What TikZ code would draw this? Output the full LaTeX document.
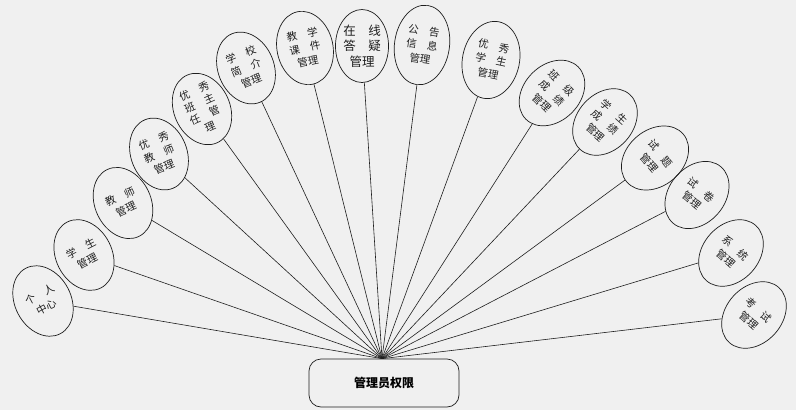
\documentclass[tikz,border=0pt]{standalone}
\usepackage{fontspec}
\newfontfamily\cjk{Noto Sans CJK SC}
\usetikzlibrary{shapes.geometric}
\definecolor{bg}{RGB}{240,240,240}
\definecolor{ink}{RGB}{30,30,30}
\begin{document}
\begin{tikzpicture}[x=1pt,y=-1pt,
  item/.style={ellipse, draw=ink, line width=0.7pt, minimum width=56pt, minimum height=74pt,
    inner sep=0pt, align=center, text=ink, font=\cjk\fontsize{10.5}{14}\selectfont},
  link/.style={draw=ink, line width=0.6pt},
  rootbox/.style={draw=ink, line width=0.7pt, rounded corners=12pt, minimum width=150pt,
    minimum height=48pt, inner sep=0pt, font=\cjk\bfseries\fontsize{12}{14}\selectfont}]
\fill[bg] (0,0) rectangle (796,410);
\useasboundingbox (0,0) rectangle (796,410);

\node[rootbox] (root) at (384,383) {管理员权限};

\node[item, rotate=28] (e1) at (43,301) {个\quad 人\\中心};
\node[item, rotate=27] (e2) at (84,255) {学\quad 生\\管理};
\node[item, rotate=25] (e3) at (123,203) {教\quad 师\\管理};
\node[item, rotate=22] (e4) at (159,154) {优\quad 秀\\教\quad 师\\管理};
\node[item, rotate=24, font=\cjk\fontsize{10.5}{13}\selectfont] (e5) at (202,109) {优\quad 秀\\班\quad 主\\任\quad 管\\理};
\node[item, rotate=22] (e6) at (246,68) {学\quad 校\\简\quad 介\\管理};
\node[item, rotate=12] (e7) at (305,48) {教\quad 学\\课\quad 件\\管理};
\node[item, minimum width=51pt, minimum height=73pt, font=\cjk\fontsize{12.5}{15.5}\selectfont] (e8) at (362,46) {在\quad 线\\答\quad 疑\\管理};
\node[item, rotate=-8, minimum width=55pt, minimum height=80pt] (e9) at (422,45) {公\quad 告\\信\quad 息\\管理};
\node[item, rotate=-12, minimum width=57pt, minimum height=78pt] (e10) at (491,60) {优\quad 秀\\学\quad 生\\管理};
\node[item, rotate=-45] (e11) at (552,93) {班\quad 级\\成\quad 绩\\管理};
\node[item, rotate=-42] (e12) at (605,122) {学\quad 生\\成\quad 绩\\管理};
\node[item, rotate=-50] (e13) at (655,158) {试\quad 题\\管理};
\node[item, rotate=-40] (e14) at (697,195) {试\quad 卷\\管理};
\node[item, rotate=-42] (e15) at (731,253) {系\quad 统\\管理};
\node[item, rotate=-42] (e16) at (754,315) {考\quad 试\\管理};

\coordinate (hub) at ([xshift=-2pt]root.north);
\foreach \n in {e1,e2,e3,e4,e5,e6,e7,e8,e9,e10,e11,e12,e13,e14,e15,e16}
  \draw[link] (\n) -- (hub);
\end{tikzpicture}
\end{document}
